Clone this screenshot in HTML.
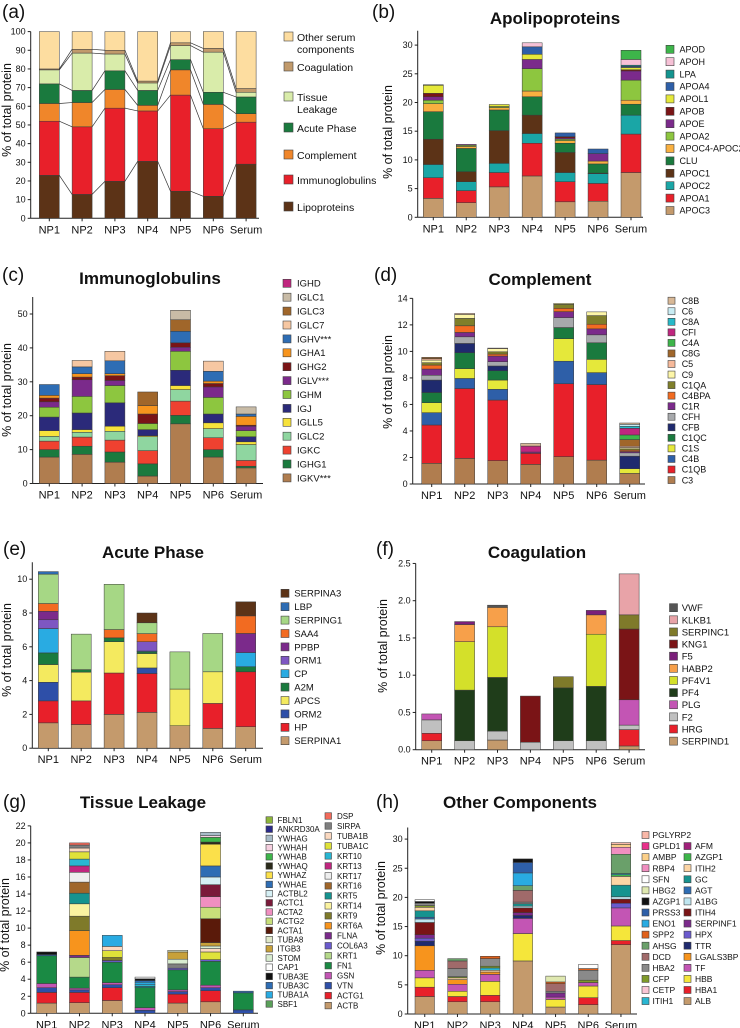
<!DOCTYPE html>
<html><head><meta charset="utf-8"><style>
html,body{margin:0;padding:0;background:#fff;}
svg{display:block;font-family:"Liberation Sans",Arial,sans-serif;}
</style></head><body>
<svg id="fig" width="740" height="1028" viewBox="0 0 740 1028" xmlns="http://www.w3.org/2000/svg"></svg>
<script>
const categories = ["NP1","NP2","NP3","NP4","NP5","NP6","Serum"];

// (a) overview
const aSeries = ["Lipoproteins","Immunoglobulins","Complement","Acute Phase","Tissue Leakage","Coagulation","Other serum components"];
const aColors = ["#5c3317","#e8202a","#f0862a","#1a7a3e","#d9ecaa","#c19a6b","#fddda0"];
const aValues = [
 [23,29,9.5,10.5,7.5,0.5,20],
 [12.8,36.2,13,6.5,20,2,9.5],
 [19.8,39.2,10,10,9,2,10],
 [30.5,27,3,8,4,1,26.5],
 [14.5,51.5,13.5,5.5,7.5,1.5,6],
 [11.8,36.2,13,6.5,21.5,2,9],
 [29,22.5,4.5,9,2.5,2,30.5]];
const aTicks = [0,10,20,30,40,50,60,70,80,90,100];

// (b) apolipoproteins
const bSeries = ["APOC3","APOA1","APOC2","APOC1","CLU","APOC4-APOC2","APOA2","APOE","APOB","APOL1","APOA4","LPA","APOH","APOD"];
const bColors = ["#c49a6c","#e8202a","#1aa6a6","#5c3317","#1a7a3e","#f9b040","#8dc63f","#7b2a8b","#7a1416","#e5e83a","#2e5fa8","#13948f","#f6c1d6","#3db54a"];
const bValues = [
 [3.3,3.6,2.3,4.4,4.8,1.4,0.6,0.6,0.6,1.4,0.1,0,0,0],
 [2.55,2.1,1.55,1.75,4.05,0.35,0.2,0.15,0,0,0,0,0,0],
 [5.3,2.5,1.6,5.7,3.6,0.4,0.2,0,0,0.35,0,0,0,0],
 [7.2,5.7,1.7,3.2,3.2,1.0,3.9,1.6,0,0.9,1.3,0,0.7,0],
 [2.7,3.5,1.6,3.5,1.6,0.45,0.25,0.2,0.25,0,0.65,0,0,0],
 [2.8,3.1,1.7,0.1,1.6,0.5,0,1.3,0,0,0.8,0,0,0],
 [7.8,6.7,3.3,0,1.9,0.7,3.5,1.6,0.2,0.4,0.2,0.2,1.0,1.6]];
const bTicks = [0,5,10,15,20,25,30];

// (c) immunoglobulins
const cSeries = ["IGKV***","IGHG1","IGKC","IGLC2","IGLL5","IGJ","IGHM","IGLV***","IGHG2","IGHA1","IGHV***","IGLC7","IGLC3","IGLC1","IGHD"];
const cColors = ["#b07d4f","#1a7a3e","#ef4130","#8fd6a0","#f7e23b","#2b2a7a","#8dc63f","#7b2a8b","#7a1416","#f7941d","#2e6db4","#f6c7a2","#a0662a","#c8bba6","#c0267f"];
const cValues = [
 [7.8,2.2,2.5,1.4,1.7,4.0,2.9,1.6,1.1,0.8,3.2,0,0,0,0],
 [8.6,2.4,2.7,1.4,0.8,4.9,4.9,4.9,0.8,1.0,2.0,1.9,0,0,0],
 [6.3,3.0,3.5,2.6,1.5,6.9,5.1,1.5,1.4,0.6,3.8,2.8,0,0,0],
 [2.2,3.6,3.9,4.1,0.3,1.8,1.8,0,2.8,2.5,0,0,4.0,0,0],
 [17.6,2.5,4.2,3.4,1.2,4.5,5.6,1.2,1.3,0,3.4,0,3.4,2.8,0],
 [7.8,2.2,3.5,2.7,1.7,2.6,4.9,3.1,1.0,0.7,2.9,3.0,0,0,0],
 [4.6,0.5,1.7,4.7,0.8,1.5,1.8,1.3,0.3,2.6,0.7,0,0,2.1,0]];
const cTicks = [0,10,20,30,40,50];

// (d) complement
const dSeries = ["C3","C1QB","C4B","C1S","C1QC","CFB","CFH","C1R","C4BPA","C1QA","C9","C5","C8G","C4A","CFI","C8A","C6","C8B"];
const dColors = ["#b07d4f","#e8202a","#2e5fa8","#e5e83a","#1a7a3e","#1f2a6e","#a7a9ac","#7b2a8b","#f26b21","#7f7f2a","#fdf6a8","#f6b99a","#a0662a","#3db54a","#c0267f","#27b9c8","#c9ecf3","#d8b896"];
const dValues = [
 [1.56,2.89,0.93,0.75,0.77,0.94,0.36,0.47,0.3,0.18,0.2,0.1,0.1,0,0,0,0,0],
 [1.93,5.27,0.76,0.74,1.2,0.7,0.5,0.33,0.5,0.56,0.3,0.07,0,0,0,0,0,0],
 [1.76,4.57,0.81,0.7,0.7,0.36,0.32,0.43,0.15,0.17,0.23,0.05,0,0,0,0,0,0],
 [1.48,0.83,0,0,0,0,0,0.1,0,0,0,0,0,0,0.45,0,0,0.2],
 [2.06,5.5,1.7,1.7,0.84,0,0.75,0.45,0.25,0.3,0.07,0,0,0,0,0,0,0],
 [1.8,5.7,0.9,1.0,1.25,0,0.6,0.45,0.35,0.65,0.28,0,0,0,0,0,0,0],
 [0.8,0,0,0.35,0,0.95,0.25,0.1,0.1,0.1,0.1,0.1,0.5,0.35,0.5,0.15,0.15,0.1]];
const dTicks = [0,2,4,6,8,10,12,14];

// (e) acute phase
const eSeries = ["SERPINA1","HP","ORM2","APCS","A2M","CP","ORM1","PPBP","SAA4","SERPING1","LBP","SERPINA3"];
const eColors = ["#c49a6c","#e8202a","#2e4fa8","#f4ea5f","#1a7a3e","#29abe2","#7e57c2","#7b2a8b","#f26b21","#a6d785","#2e6db4","#5c3317"];
const eValues = [
 [1.5,1.3,1.1,1.05,0.69,1.44,0.52,0.5,0.46,1.74,0.15,0],
 [1.4,1.4,0,1.7,0.15,0,0,0,0,2.1,0,0],
 [2.0,2.45,0,1.85,0.23,0,0,0,0.49,2.68,0,0],
 [2.12,2.3,0.33,0.85,0.1,0.05,0.55,0,0.48,0.64,0,0.58],
 [1.33,0,0,2.17,0,0,0,0,0,2.2,0,0],
 [1.17,1.48,0,1.87,0,0,0,0,0,2.27,0,0],
 [1.27,3.25,0,0,0.3,0.84,0,1.13,1.04,0,0,0.83]];
const eTicks = [0,2,4,6,8,10];

// (f) coagulation
const fSeries = ["SERPIND1","HRG","F2","PLG","PF4","PF4V1","HABP2","F5","KNG1","SERPINC1","KLKB1","VWF"];
const fColors = ["#c49a6c","#e8202a","#c0c0c0","#c355b4","#1f3d1a","#d4e02a","#f7a04a","#7b1f7a","#7a1416","#7f7a2a","#e8a3a8","#555555"];
const fValues = [
 [0.12,0.1,0.18,0.08,0,0,0,0,0,0,0,0],
 [0,0,0.12,0,0.68,0.65,0.23,0.04,0,0,0,0],
 [0.13,0,0.12,0,0.72,0.68,0.26,0,0,0,0,0.03],
 [0,0,0.1,0,0,0,0,0,0.62,0,0,0],
 [0,0,0.12,0,0.71,0,0,0,0,0.15,0,0],
 [0,0,0.12,0,0.73,0.7,0.26,0.06,0,0,0,0],
 [0.05,0.22,0.06,0.34,0,0,0,0,0.95,0.19,0.55,0]];
const fTicks = [0,0.5,1.0,1.5,2.0,2.5];

// (g) tissue leakage
const gSeries = ["ACTB","ACTG1","VTN","GSN","FN1","KRT1","COL6A3","FLNA","KRT6A","KRT9","KRT14","KRT5","KRT16","KRT17","KRT13","KRT10","TUBA1C","TUBA1B","SIRPA","DSP","SBF1","TUBA1A","TUBA3C","TUBA3E","CAP1","STOM","ITGB3","TUBA8","ACTA1","ACTG2","ACTA2","ACTC1","ACTBL2","YWHAE","YWHAZ","YWHAQ","YWHAB","YWHAH","YWHAG","ANKRD30A","FBLN1"];
const gColors = ["#c49a6c","#e8202a","#2e4fa8","#c355b4","#1a8a44","#b5d98a","#6a5acd","#7b2a8b","#f7941d","#7f7a2a","#fbf3a0","#16938f","#a0662a","#eeeeee","#c0267f","#29b6d2","#dfe23a","#fbd9c0","#7f7f7f","#f26b5b","#5aa05a","#29abe2","#2e6db4","#111111","#ffffff","#d8ecd0","#c8a13a","#dfe8c8","#5a1a0a","#c8df7a","#f08fc0","#7a1a3a","#d6f0f5","#2e6db4","#fbe04a","#2a2a1a","#3db54a","#f6d0e0","#a8bcc8","#2a2a8a","#8db53a"];
const gValues = [
 [1.2,1.25,0.55,0.5,3.25,0,0,0,0,0,0,0,0,0,0,0,0,0,0,0,0,0,0.15,0.3,0,0,0,0,0,0,0,0,0,0,0,0,0,0,0,0,0],
 [1.25,1.2,0.3,0.2,1.3,2.3,0,0.25,2.9,1.7,1.45,1.25,1.3,1.15,0.75,0.8,0.85,0.45,0.35,0.25,0,0,0,0,0,0,0,0,0,0,0,0,0,0,0,0,0,0,0,0,0],
 [1.5,1.5,0.35,0.25,2.4,0,0.2,0,0,0.35,0,0,0,0,0,0,0.8,0.5,0,0,0,1.3,0,0,0,0,0,0,0,0,0,0,0,0,0,0,0,0,0,0,0],
 [0,0,0.35,0.3,2.35,0,0,0,0,0,0,0.15,0,0,0,0.2,0,0,0,0,0,0.3,0.2,0.2,0.2,0,0,0,0,0,0,0,0,0,0,0,0,0,0,0,0],
 [1.2,1.05,0.3,0.2,2.35,0,0.2,0,0,0,0,0,0,0,0,0,0,0,0.5,0,0,0,0,0,0,0.55,0.85,0.2,0,0,0,0,0,0,0,0,0,0,0,0,0],
 [1.35,1.3,0.35,0.3,2.8,0,0.2,0,0,0,0,0,0,0,0,0,0.9,0.4,0,0,0,0,0,0,0,0.3,0.4,0,2.8,1.35,1.25,1.4,0.9,1.3,2.55,0.25,0.55,0.2,0.4,0,0],
 [0,0,0.4,0,2.0,0,0,0,0,0,0,0,0,0,0,0,0,0,0,0,0,0,0.2,0,0,0,0,0,0,0,0,0,0,0,0,0,0,0,0,0,0]];
const gTicks = [0,2,4,6,8,10,12,14,16,18,20,22];

// (h) other components
const hSeries = ["ALB","HBA1","HBB","TF","LGALS3BP","TTR","HPX","SERPINF1","ITIH4","A1BG","AGT","GC","ITIH2","AZGP1","AFM","ITIH1","CETP","CFP","HBA2","DCD","AHSG","SPP2","ENO1","PRSS3","AZGP1","HBG2","SFN","RBP4","AMBP","GPLD1","PGLYRP2"];
const hColors = ["#c49a6c","#e8202a","#f5e63a","#c355b4","#f7941d","#1f2a6e","#6a5acd","#7b2a8b","#7a1416","#bfe6f0","#2e6db4","#16938f","#fcd5a5","#3db54a","#a0207a","#29b6d2","#f9c5d5","#7f9a2a","#8a8a8a","#a06a6a","#6aa06a","#e0601a","#29abe2","#2e5fa8","#111111","#dfe8b0","#ffffff","#f08fc0","#fbd08a","#e8308a","#f9b8a8"];
const hValues = [
 [3.0,1.6,1.6,1.3,4.2,0.8,0.5,0.6,2.1,0.6,0.3,1.1,0.6,0,0,0,0,0.3,0.4,0,0,0,0,0,0.3,0,0.3,0,0,0,0],
 [2.1,0.9,0.9,1.2,0.8,0,0,0,0,0,0,0,0.3,0,0,0,0,0.2,1.4,1.3,0.4,0,0,0,0,0,0,0,0,0,0],
 [2.1,1.1,2.4,1.2,0.4,0,0,0,0,0,0,0,0.3,0,0,0.4,0,0.3,1.3,0,0,0.4,0,0,0,0,0,0,0,0,0],
 [9.1,0,4.7,2.6,0,0.5,0,0.5,0.8,0.3,0,0.4,0,0,0,0,0,0,0.3,2.0,0.8,0,2.2,1.8,0.6,0,0,0,0,0,0],
 [1.2,0,1.3,0.4,0,0,0,0.7,0,0,0,0,0,0,0,0,0,0,0.3,1.3,0,0.3,0,0,0,1.0,0,0,0,0,0],
 [1.6,1.2,2.0,0.6,0,0,0,0,0,0,0,0,0,0,0,0,0,0.4,1.7,0,0,0.3,0,0,0,0,0.7,0,0,0,0],
 [11.9,0.7,2.5,3.1,0,0,0.8,0,0.7,0.4,0,2.0,1.5,0.3,0,0.2,0,0,0,0,3.3,0,0,0,0,0,0,1.2,0.5,0,0.3]];
const hTicks = [0,5,10,15,20,25,30];

const NS = "http://www.w3.org/2000/svg";
const svg = document.getElementById("fig");
function mk(tag, parent){ const e = document.createElementNS(NS, tag); parent.appendChild(e); return e; }
function txt(parent, x, y, s, size, anchor, weight){
  const t = mk("text", parent);
  t.setAttribute("x", x); t.setAttribute("y", y);
  t.setAttribute("font-size", size);
  t.setAttribute("text-anchor", anchor || "start");
  if (weight) t.setAttribute("font-weight", weight);
  t.setAttribute("fill", "#111");
  t.textContent = s;
  return t;
}

function drawPanel(id, P, values, colors, ticks, decimals){
  const g = mk("g", svg);
  
  
  const y = v => P.y0 - v * P.ppu;
  const ya = mk("line", g);
  ya.setAttribute("x1", P.x0); ya.setAttribute("x2", P.x0);
  ya.setAttribute("y1", P.y0); ya.setAttribute("y2", y(P.top));
  ya.setAttribute("stroke", "#222"); ya.setAttribute("stroke-width", "1");
  
  
  const xa = mk("line", g);
  xa.setAttribute("x1", P.x0); xa.setAttribute("x2", P.xEnd);
  xa.setAttribute("y1", P.y0); xa.setAttribute("y2", P.y0);
  xa.setAttribute("stroke", "#222"); xa.setAttribute("stroke-width", "1");
  
  
  ticks.forEach(t => {
    const l = mk("line", g);
    l.setAttribute("x1", P.x0 - 3); l.setAttribute("x2", P.x0);
    l.setAttribute("y1", y(t)); l.setAttribute("y2", y(t));
    l.setAttribute("stroke", "#222");
    
    
    const tl = txt(g, P.x0 - 5, y(t) + 3, t.toFixed(decimals), 9, "end");
    
    
  });
  values.forEach((stack, b) => {
    const bx = P.bar0 + b * P.step;
    let cum = 0;
    stack.forEach((v, s) => {
      if (v <= 0) return;
      const r = mk("rect", g);
      r.setAttribute("x", bx); r.setAttribute("width", P.bw);
      r.setAttribute("y", y(cum + v)); r.setAttribute("height", v * P.ppu);
      r.setAttribute("fill", colors[s]);
      r.setAttribute("stroke", "#3a3a3a"); r.setAttribute("stroke-width", "0.5");
      
      
      cum += v;
    });
    const tk = mk("line", g);
    tk.setAttribute("x1", bx + P.bw / 2); tk.setAttribute("x2", bx + P.bw / 2);
    tk.setAttribute("y1", P.y0); tk.setAttribute("y2", P.y0 + 3);
    tk.setAttribute("stroke", "#222");
    
    
    const cl = txt(g, bx + P.bw / 2, P.y0 + 15, categories[b], 11, "middle");
    
    
  });
  return g;
}

function legend(id, names, colors, L){
  const g = mk("g", svg);
  
  
  names.forEach((n, i) => {
    const yy = L.y + i * L.step;
    const r = mk("rect", g);
    r.setAttribute("x", L.sx); r.setAttribute("y", yy - L.sz / 2);
    r.setAttribute("width", L.sz); r.setAttribute("height", L.sz);
    r.setAttribute("fill", colors[i]); r.setAttribute("stroke", "#444"); r.setAttribute("stroke-width", "0.6");
    
    
    const t = txt(g, L.tx, yy + L.fs * 0.36, n, L.fs, "start");
    
    
  });
}

function titles(id, label, lx, ly, title, tx, ty, ytx, yty){
  const a = txt(svg, lx, ly, label, 19, "start");
  
  
  if (title){
    const t = txt(svg, tx, ty, title, 17, "middle", "bold");
    
    
  }
  const yt = txt(svg, 0, 0, "% of total protein", 12.5, "middle");
  yt.setAttribute("transform", "translate(" + ytx + "," + yty + ") rotate(-90)");
  
  
}

const rev = a => a.slice().reverse();

// ---- (a)
const PA = {x0:30.7, y0:218.3, ppu:1.867, top:100, xEnd:259, bar0:39.3, step:32.8, bw:20};
drawPanel("overview", PA, aValues, aColors, aTicks, 0);
(function(){
  const g = mk("g", svg);
  
  
  for (let b = 0; b < aValues.length - 1; b++){
    let c1 = 0, c2 = 0;
    for (let s = 0; s < aSeries.length - 1; s++){
      c1 += aValues[b][s]; c2 += aValues[b+1][s];
      const l = mk("line", g);
      l.setAttribute("x1", PA.bar0 + b * PA.step + PA.bw);
      l.setAttribute("x2", PA.bar0 + (b+1) * PA.step);
      l.setAttribute("y1", PA.y0 - c1 * PA.ppu);
      l.setAttribute("y2", PA.y0 - c2 * PA.ppu);
      l.setAttribute("stroke", "#333"); l.setAttribute("stroke-width", "0.7");
      
      
    }
  }
})();
titles("overview", "(a)", 2, 18, null, 0, 0, 11, 110);
(function(){
  const g = mk("g", svg);
  
  
  const rows = [[6,"Other serum",37,"components"],[5,"Coagulation",67,null],[4,"Tissue",97," Leakage"],[3,"Acute Phase",128,null],[2,"Complement",155,null],[1,"Immunoglobulins",180,null],[0,"Lipoproteins",207,null]];
  rows.forEach(r => {
    const sq = mk("rect", g);
    sq.setAttribute("x", 284); sq.setAttribute("y", r[2] - 5);
    sq.setAttribute("width", 9); sq.setAttribute("height", 9);
    sq.setAttribute("fill", aColors[r[0]]); sq.setAttribute("stroke", "#444"); sq.setAttribute("stroke-width", "0.6");
    
    
    const t = txt(g, 297, r[2] + 4, r[1], 10.5, "start");
    
    
    if (r[3]){
      const t2 = txt(g, 297, r[2] + 16, r[3], 10.5, "start");
      
      
    }
  });
})();

// ---- (b)
drawPanel("apolipoproteins", {x0:417.7, y0:217.3, ppu:5.74, top:32.5, xEnd:643, bar0:423.3, step:32.95, bw:20}, bValues, bColors, bTicks, 0);
titles("apolipoproteins", "(b)", 372, 18, "Apolipoproteins", 555, 24, 392, 132);
legend("apolipoproteins", rev(bSeries), rev(bColors), {sx:666, tx:679.5, y:49.3, step:12.4, sz:8, fs:9});

// ---- (c)
drawPanel("immunoglobulins", {x0:32.7, y0:483.5, ppu:3.39, top:55, xEnd:263, bar0:39.3, step:32.8, bw:20}, cValues, cColors, cTicks, 0);
titles("immunoglobulins", "(c)", 2, 281, "Immunoglobulins", 150, 284, 11, 390);
legend("immunoglobulins", rev(cSeries), rev(cColors), {sx:283, tx:297, y:283.3, step:13.9, sz:8, fs:9.5});

// ---- (d)
drawPanel("complement", {x0:412.7, y0:484, ppu:13.26, top:14, xEnd:645, bar0:421.7, step:33, bw:20}, dValues, dColors, dTicks, 0);
titles("complement", "(d)", 374, 281, "Complement", 540, 285, 392, 382);
legend("complement", rev(dSeries), rev(dColors), {sx:668, tx:681.7, y:300.7, step:10.55, sz:7, fs:9});

// ---- (e)
drawPanel("acute-phase", {x0:32.3, y0:748.2, ppu:16.9, top:11, xEnd:263, bar0:38.3, step:32.9, bw:20}, eValues, eColors, eTicks, 0);
titles("acute-phase", "(e)", 3, 555, "Acute Phase", 153, 558, 11, 650);
legend("acute-phase", rev(eSeries), rev(eColors), {sx:281, tx:294.3, y:593.3, step:13.4, sz:8, fs:9.5});

// ---- (f)
drawPanel("coagulation", {x0:415.7, y0:749.7, ppu:74.5, top:2.5, xEnd:645, bar0:421.7, step:32.9, bw:20}, fValues, fColors, fTicks, 1);
titles("coagulation", "(f)", 376, 555, "Coagulation", 537, 558, 387, 646);
legend("coagulation", rev(fSeries), rev(fColors), {sx:669.5, tx:681.7, y:607.7, step:12.13, sz:8, fs:9.5});

// ---- (g)
drawPanel("tissue-leakage", {x0:30.7, y0:1013.3, ppu:8.52, top:22, xEnd:258, bar0:36.7, step:32.77, bw:20}, gValues, gColors, gTicks, 0);
titles("tissue-leakage", "(g)", 3, 808, "Tissue Leakage", 143, 808, 9, 925);
const gLeg1 = ["FBLN1","ANKRD30A","YWHAG","YWHAH","YWHAB","YWHAQ","YWHAZ","YWHAE","ACTBL2","ACTC1","ACTA2","ACTG2","ACTA1","TUBA8","ITGB3","STOM","CAP1","TUBA3E","TUBA3C","TUBA1A","SBF1"];
const gLeg2 = ["DSP","SIRPA","TUBA1B","TUBA1C","KRT10","KRT13","KRT17","KRT16","KRT5","KRT14","KRT9","KRT6A","FLNA","COL6A3","KRT1","FN1","GSN","VTN","ACTG1","ACTB"];
legend("tissue-leakage-col1", gLeg1, gLeg1.map(n => gColors[gSeries.indexOf(n)]), {sx:266, tx:277.5, y:820, step:9.2, sz:6.5, fs:8});
legend("tissue-leakage-col2", gLeg2, gLeg2.map(n => gColors[gSeries.indexOf(n)]), {sx:325, tx:337, y:816, step:9.98, sz:6.5, fs:8});

// ---- (h)
drawPanel("other-components", {x0:407.7, y0:1014, ppu:5.83, top:32, xEnd:637, bar0:415, step:32.7, bw:19.5}, hValues, hColors, hTicks, 0);
titles("other-components", "(h)", 376, 808, "Other Components", 520, 808, 385, 908);
const hLeg1 = ["PGLYRP2","GPLD1","AMBP","RBP4","SFN","HBG2","AZGP1","PRSS3","ENO1","SPP2","AHSG","DCD","HBA2","CFP","CETP","ITIH1"];
const hLeg1Idx = [30,29,28,27,26,25,24,23,22,21,20,19,18,17,16,15];
const hLeg2 = ["AFM","AZGP1","ITIH2","GC","AGT","A1BG","ITIH4","SERPINF1","HPX","TTR","LGALS3BP","TF","HBB","HBA1","ALB"];
const hLeg2Idx = [14,13,12,11,10,9,8,7,6,5,4,3,2,1,0];
legend("other-components-col1", hLeg1, hLeg1Idx.map(i => hColors[i]), {sx:642, tx:652.5, y:835, step:11.07, sz:7, fs:8.5});
legend("other-components-col2", hLeg2, hLeg2Idx.map(i => hColors[i]), {sx:684, tx:695, y:846.07, step:11.07, sz:7, fs:8.5});
</script>
</body></html>
